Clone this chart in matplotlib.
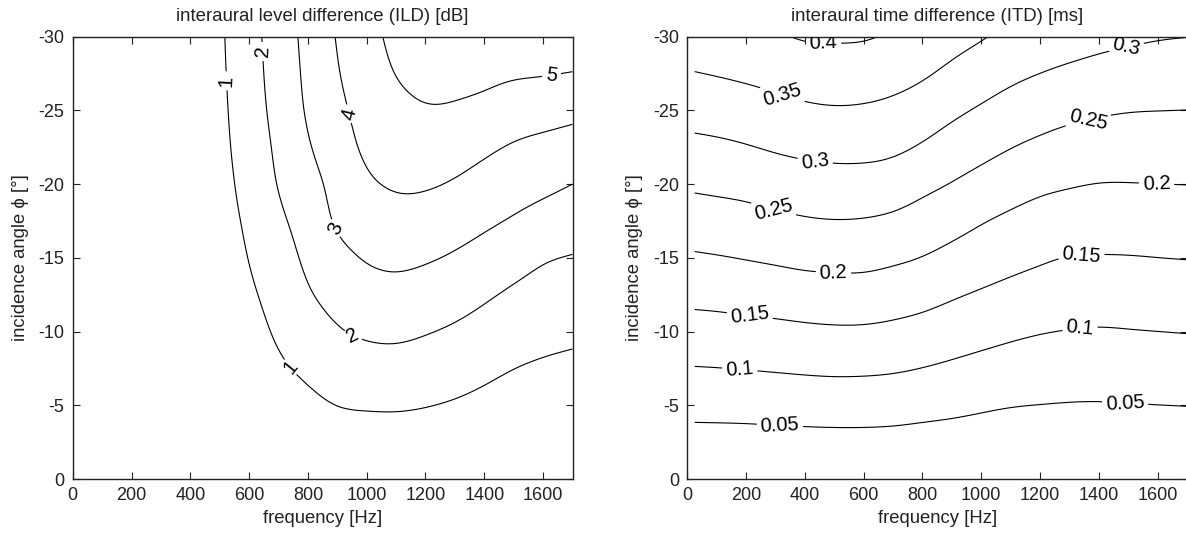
import numpy as np
import matplotlib
matplotlib.use("Agg")
import matplotlib.pyplot as plt

plt.rcParams['font.family'] = ['Liberation Sans', 'DejaVu Sans']
plt.rcParams['axes.unicode_minus'] = False

# ---------------- data ----------------
angles = [0, -2.5, -5, -7.5, -10, -12.5, -15, -17.5, -20, -22.5, -25, -27.5, -30]

# ILD [dB], one list per frequency, values at the angles above
ild_freqs = [0, 100, 200, 300, 400, 500, 600, 700, 800, 900,
             1000, 1100, 1200, 1300, 1400, 1500, 1600, 1700]
ild_f0 = [0, 0, 0, 0, 0, 0, 0, 0, 0, 0, 0, 0, 0]
ild_f100 = [0, 0.003, 0.006, 0.009, 0.013, 0.016, 0.019, 0.022, 0.024, 0.027, 0.028, 0.030, 0.031]
ild_f200 = [0, 0.008, 0.016, 0.024, 0.032, 0.040, 0.049, 0.056, 0.062, 0.068, 0.073, 0.077, 0.079]
ild_f300 = [0, 0.018, 0.036, 0.054, 0.072, 0.090, 0.108, 0.124, 0.138, 0.152, 0.162, 0.170, 0.176]
ild_f400 = [0, 0.04, 0.08, 0.12, 0.16, 0.20, 0.24, 0.27, 0.30, 0.33, 0.36, 0.37, 0.39]
ild_f500 = [0, 0.09, 0.18, 0.27, 0.36, 0.45, 0.54, 0.62, 0.69, 0.76, 0.81, 0.85, 0.88]
ild_f600 = [0, 0.17, 0.34, 0.51, 0.685, 0.86, 1.025, 1.18, 1.34, 1.45, 1.54, 1.60, 1.65]
ild_f700 = [0, 0.287, 0.575, 0.862, 1.121, 1.355, 1.589, 1.822, 2.04, 2.18, 2.31, 2.40, 2.46]
ild_f800 = [0, 0.395, 0.79, 1.171, 1.537, 1.902, 2.179, 2.423, 2.668, 2.912, 3.10, 3.20, 3.28]
ild_f900 = [0, 0.505, 1.009, 1.464, 1.918, 2.325, 2.72, 3.10, 3.30, 3.56, 3.78, 3.94, 4.05]
ild_f1000 = [0, 0.543, 1.084, 1.611, 2.124, 2.60, 3.062, 3.453, 3.844, 4.15, 4.33, 4.50, 4.65]
ild_f1100 = [0, 0.548, 1.095, 1.636, 2.17, 2.689, 3.183, 3.642, 4.09, 4.42, 4.73, 5.02, 5.25]
ild_f1200 = [0, 0.515, 1.031, 1.541, 2.052, 2.573, 3.091, 3.596, 4.083, 4.496, 4.93, 5.219, 5.50]
ild_f1300 = [0, 0.461, 0.918, 1.400, 1.877, 2.381, 2.897, 3.408, 3.918, 4.404, 4.90, 5.229, 5.53]
ild_f1400 = [0, 0.389, 0.779, 1.197, 1.653, 2.125, 2.646, 3.16, 3.66, 4.17, 4.74, 5.19, 5.52]
ild_f1500 = [0, 0.336, 0.671, 1.009, 1.436, 1.863, 2.37, 2.913, 3.42, 3.92, 4.512, 5.10, 5.60]
ild_f1600 = [0, 0.299, 0.599, 0.898, 1.264, 1.664, 2.091, 2.659, 3.217, 3.761, 4.378, 5.048, 5.65]
ild_f1700 = [0, 0.279, 0.558, 0.837, 1.165, 1.56, 1.956, 2.47, 3.00, 3.605, 4.25, 4.963, 5.68]
ild_levels = [1, 2, 3, 4, 5]

# ITD [ms], one list per frequency, values at the angles above
itd_freqs = [25, 100, 200, 300, 400, 500, 600, 700, 800, 900,
             1000, 1100, 1200, 1300, 1400, 1500, 1600, 1700]
itd_f25 = [0, 0.0325, 0.0652, 0.0982, 0.1307, 0.1629, 0.1946, 0.2261, 0.2575, 0.2883, 0.3185, 0.3484, 0.3783]
itd_f100 = [0, 0.0327, 0.0658, 0.0993, 0.1322, 0.1649, 0.1974, 0.2291, 0.2605, 0.2914, 0.3220, 0.3524, 0.3825]
itd_f200 = [0, 0.0332, 0.0669, 0.1014, 0.1351, 0.1687, 0.2019, 0.2335, 0.2654, 0.2974, 0.3280, 0.3583, 0.3881]
itd_f300 = [0, 0.0342, 0.0688, 0.1038, 0.1380, 0.1725, 0.2069, 0.2401, 0.2727, 0.3049, 0.3354, 0.3655, 0.3952]
itd_f400 = [0, 0.0351, 0.0706, 0.1063, 0.1413, 0.1768, 0.2119, 0.2459, 0.2786, 0.3108, 0.3424, 0.3732, 0.4037]
itd_f500 = [0, 0.0357, 0.0718, 0.1080, 0.1436, 0.1790, 0.2141, 0.2486, 0.2816, 0.3140, 0.3459, 0.3758, 0.4052]
itd_f600 = [0, 0.0357, 0.0716, 0.1075, 0.1432, 0.1787, 0.2135, 0.2473, 0.2811, 0.3136, 0.3444, 0.3741, 0.4035]
itd_f700 = [0, 0.0347, 0.0697, 0.1048, 0.1393, 0.1734, 0.2075, 0.2413, 0.2754, 0.3083, 0.3381, 0.3674, 0.3950]
itd_f800 = [0, 0.0325, 0.0655, 0.0993, 0.1327, 0.1658, 0.1987, 0.2300, 0.2620, 0.2953, 0.3259, 0.3558, 0.3849]
itd_f900 = [0, 0.0303, 0.0611, 0.0925, 0.1238, 0.1550, 0.1863, 0.2173, 0.2481, 0.2790, 0.3095, 0.3393, 0.3686]
itd_f1000 = [0, 0.0278, 0.0560, 0.0857, 0.1155, 0.1452, 0.1741, 0.2031, 0.2340, 0.2645, 0.2946, 0.3241, 0.3535]
itd_f1100 = [0, 0.0258, 0.0517, 0.0798, 0.1080, 0.1364, 0.1641, 0.1913, 0.2207, 0.2512, 0.2810, 0.3102, 0.3386]
itd_f1200 = [0, 0.0248, 0.0495, 0.0758, 0.1021, 0.1288, 0.1555, 0.1820, 0.2098, 0.2402, 0.2701, 0.2998, 0.3288]
itd_f1300 = [0, 0.0240, 0.0480, 0.0732, 0.0986, 0.1237, 0.1488, 0.1760, 0.2034, 0.2321, 0.2613, 0.2912, 0.3216]
itd_f1400 = [0, 0.0238, 0.0476, 0.0723, 0.0970, 0.1223, 0.1476, 0.1734, 0.1993, 0.2272, 0.2554, 0.2844, 0.3137]
itd_f1500 = [0, 0.0243, 0.0486, 0.0735, 0.0983, 0.1233, 0.1482, 0.1735, 0.1989, 0.2252, 0.2517, 0.2796, 0.3076]
itd_f1600 = [0, 0.0249, 0.0497, 0.0748, 0.0999, 0.1249, 0.1498, 0.1748, 0.1998, 0.2251, 0.2504, 0.2766, 0.3029]
itd_f1700 = [0, 0.0254, 0.0507, 0.0761, 0.1014, 0.1263, 0.1513, 0.1759, 0.2005, 0.2251, 0.2497, 0.2748, 0.3005]
itd_levels = [0.05, 0.1, 0.15, 0.2, 0.25, 0.3, 0.35, 0.4]

ild_columns = [ild_f0, ild_f100, ild_f200, ild_f300, ild_f400, ild_f500, ild_f600,
               ild_f700, ild_f800, ild_f900, ild_f1000, ild_f1100, ild_f1200,
               ild_f1300, ild_f1400, ild_f1500, ild_f1600, ild_f1700]
itd_columns = [itd_f25, itd_f100, itd_f200, itd_f300, itd_f400, itd_f500, itd_f600,
               itd_f700, itd_f800, itd_f900, itd_f1000, itd_f1100, itd_f1200,
               itd_f1300, itd_f1400, itd_f1500, itd_f1600, itd_f1700]

# contour label positions (frequency, angle)
ild_label_pos = [(516, -27.0), (735, -7.5), (650, -29.0), (950, -9.6),
                 (892, -17.0), (925, -24.7), (1629, -27.4)]
itd_label_pos = [(463, -29.44), (321, -25.93), (434, -21.42), (293, -18.26),
                 (497, -13.97), (213, -11.14), (179, -7.53), (315, -3.62),
                 (1494, -29.28), (1364, -24.31), (1596, -20.02), (1341, -14.98),
                 (1336, -10.17), (1489, -5.12)]

titles = ["interaural level difference (ILD) [dB]",
          "interaural time difference (ITD) [ms]"]
xlabel = "frequency [Hz]"
ylabel = "incidence angle \u03d5 [\u00b0]"
xticks = [0, 200, 400, 600, 800, 1000, 1200, 1400, 1600]
yticks = [0, -5, -10, -15, -20, -25, -30]


def natural_spline(x, y, xq):
    """Natural cubic spline through (x, y) along axis 0, evaluated at xq."""
    x = np.asarray(x, float)
    y = np.asarray(y, float)
    n = len(x)
    h = np.diff(x)
    A = np.zeros((n, n))
    rhs = np.zeros_like(y)
    A[0, 0] = A[-1, -1] = 1.0
    for i in range(1, n - 1):
        A[i, i - 1] = h[i - 1]
        A[i, i] = 2.0 * (h[i - 1] + h[i])
        A[i, i + 1] = h[i]
        rhs[i] = 6.0 * ((y[i + 1] - y[i]) / h[i] - (y[i] - y[i - 1]) / h[i - 1])
    M = np.linalg.solve(A, rhs)
    idx = np.clip(np.searchsorted(x, xq) - 1, 0, n - 2)
    x0, x1 = x[idx], x[idx + 1]
    hh = (x1 - x0)[:, None]
    t0 = (x1 - xq)[:, None]
    t1 = (xq - x0)[:, None]
    return (M[idx] * t0 ** 3 / (6 * hh) + M[idx + 1] * t1 ** 3 / (6 * hh)
            + (y[idx] / hh - M[idx] * hh / 6) * t0
            + (y[idx + 1] / hh - M[idx + 1] * hh / 6) * t1)


def smooth_field(freqs, angs, columns):
    f = np.asarray(freqs, float)
    a = -np.asarray(angs, float)               # 0 ... 30 increasing
    Z = np.asarray(columns, float)             # (n_freqs, n_angles)
    fq = np.linspace(f[0], f[-1], 400)
    aq = np.linspace(0, 30, 301)
    Zf = natural_spline(f, Z, fq)              # (n_fq, n_angles)
    Zfa = natural_spline(a, Zf.T, aq)          # (n_aq, n_fq)
    return fq, -aq, Zfa


W, H = 1186, 533
fig = plt.figure(figsize=(W / 100, H / 100), dpi=100)
ax1 = fig.add_axes([72.7 / W, 1 - 479.0 / H, 499.8 / W, 442.3 / H])
ax2 = fig.add_axes([687.3 / W, 1 - 479.0 / H, 499.8 / W, 442.3 / H])

panels = [
    (ax1, ild_freqs, ild_columns, ild_levels, ild_label_pos),
    (ax2, itd_freqs, itd_columns, itd_levels, itd_label_pos),
]

TXT = '#222222'
for ax, freqs, cols, levels, lpos in panels:
    fq, aq, Zq = smooth_field(freqs, angles, cols)
    cs = ax.contour(fq, aq, Zq, levels=levels, colors='k', linewidths=0.8)
    ax.clabel(cs, levels, manual=lpos, inline=True, fmt='%g', fontsize=14.5,
              inline_spacing=4)
    ax.set_xlim(0, 1700)
    ax.set_ylim(0, -30)
    ax.set_xticks(xticks)
    ax.set_yticks(yticks)
    ax.tick_params(direction='in', top=True, right=True, length=5, width=0.8,
                   labelsize=13, pad=6, colors=TXT, labelcolor=TXT)
    for s in ax.spines.values():
        s.set_linewidth(1.0)
        s.set_color(TXT)
    ax.set_xlabel(xlabel, fontsize=13.3, color=TXT, labelpad=4)
    ax.set_ylabel(ylabel, fontsize=13.3, color=TXT, labelpad=7)

ax1.set_title(titles[0], fontsize=13.4, color=TXT, pad=11)
ax2.set_title(titles[1], fontsize=13.4, color=TXT, pad=11)

fig.savefig("out.png", dpi=100)
